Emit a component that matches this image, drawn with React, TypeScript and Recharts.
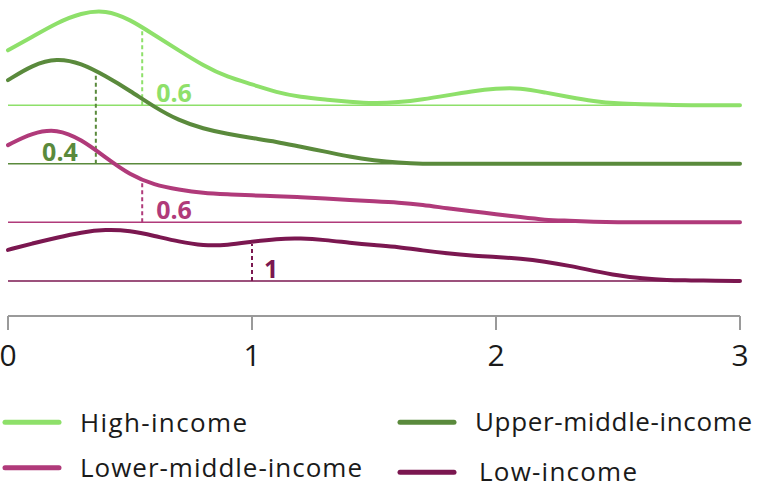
import React from 'react';
import { LineChart, Line, XAxis, YAxis, ReferenceLine, Legend } from 'recharts';

const xValues = [0, 0.1, 0.2, 0.3, 0.4, 0.5, 0.6, 0.7, 0.8, 0.9, 1.0, 1.1, 1.2, 1.3, 1.4, 1.5, 1.6, 1.7, 1.8, 1.9, 2.0, 2.1, 2.2, 2.3, 2.4, 2.5, 2.6, 2.7, 2.8, 2.9, 3.0];
const highIncome = [0.94, 1.17, 1.41, 1.58, 1.63, 1.47, 1.20, 0.94, 0.68, 0.48, 0.36, 0.22, 0.14, 0.10, 0.06, 0.03, 0.05, 0.10, 0.17, 0.24, 0.29, 0.30, 0.22, 0.14, 0.07, 0.03, 0.02, 0.01, 0, 0, 0];
const upperMiddleIncome = [1.43, 1.69, 1.81, 1.72, 1.50, 1.25, 0.97, 0.74, 0.60, 0.51, 0.44, 0.38, 0.29, 0.21, 0.12, 0.06, 0.02, 0, 0, 0, 0, 0, 0, 0, 0, 0, 0, 0, 0, 0, 0];
const lowerMiddleIncome = [1.32, 1.53, 1.60, 1.42, 1.11, 0.81, 0.64, 0.56, 0.50, 0.48, 0.46, 0.45, 0.43, 0.41, 0.38, 0.36, 0.34, 0.30, 0.24, 0.19, 0.14, 0.09, 0.04, 0.03, 0.01, 0, 0, 0, 0, 0, 0];
const lowIncome = [0.53, 0.64, 0.74, 0.83, 0.88, 0.86, 0.77, 0.67, 0.60, 0.61, 0.67, 0.72, 0.73, 0.70, 0.65, 0.61, 0.58, 0.52, 0.47, 0.43, 0.41, 0.38, 0.33, 0.26, 0.17, 0.09, 0.04, 0.01, 0.01, 0, 0];

const seriesNames = ['High-income', 'Upper-middle-income', 'Lower-middle-income', 'Low-income'];
const seriesKeys = ['high', 'upper', 'lower', 'low'];
const seriesValues = [highIncome, upperMiddleIncome, lowerMiddleIncome, lowIncome];
const offsets = [3.6, 2.6, 1.6, 0.6];
const medians = [0.55, 0.36, 0.55, 1.0];
const medianHeights = [1.34, 1.55, 0.7, 0.63];
const medianLabels = ['0.6', '0.4', '0.6', '1'];
const xTicks = [0, 1, 2, 3];

const colors = ['#8EE06A', '#5A8A3C', '#B03A7A', '#7B1750'];
const labelDx = [14, -18, 14, 12];
const labelAnchor = ['start', 'end', 'start', 'start'];
const FONT = '"Open Sans", "Noto Sans", sans-serif';

const data = xValues.map((x, i) => {
  const row: Record<string, number> = { x };
  seriesKeys.forEach((k, s) => {
    row[k] = offsets[s] + seriesValues[s][i];
  });
  return row;
});

const makeLabel = (i: number) => (props: any) => {
  const vb = props.viewBox || {};
  const x = vb.x ?? 0;
  const yb = (vb.y ?? 0) + (vb.height ?? 0);
  return (
    <text
      x={x + labelDx[i]}
      y={yb - 3}
      textAnchor={labelAnchor[i]}
      fill={colors[i]}
      fontSize={25}
      fontWeight={700}
      fontFamily={FONT}
    >
      {medianLabels[i]}
    </text>
  );
};

const legendLayout = [
  { lx: 5, ly: 27.3, tx: 80, ty: 36.7, w: 167 },
  { lx: 400, ly: 27.3, tx: 475, ty: 36, w: 277 },
  { lx: 5, ly: 72.7, tx: 80, ty: 81.7, w: 282 },
  { lx: 400, ly: 77.3, tx: 479, ty: 86, w: 158 },
];

const LegendBlock = () => (
  <svg width={757} height={98} style={{ display: 'block' }}>
    {seriesNames.map((name, i) => (
      <g key={name}>
        <line
          x1={legendLayout[i].lx}
          x2={legendLayout[i].lx + 54}
          y1={legendLayout[i].ly}
          y2={legendLayout[i].ly}
          stroke={colors[i]}
          strokeWidth={5}
          strokeLinecap="round"
        />
        <text
          x={legendLayout[i].tx}
          y={legendLayout[i].ty}
          fontSize={26}
          textLength={legendLayout[i].w}
          lengthAdjust="spacing"
          fill="#1a1a1a"
          fontFamily={FONT}
        >
          {name}
        </text>
      </g>
    ))}
  </svg>
);

export default function App() {
  return (
    <div style={{ position: 'absolute', left: 0, top: 0, width: 757, height: 493, background: '#fff' }}>
      <LineChart
        width={757}
        height={493}
        data={data}
        margin={{ top: 0, right: 17, bottom: 117, left: 8 }}
        style={{ fontFamily: FONT }}
      >
        <XAxis
          dataKey="x"
          type="number"
          domain={[0, 3]}
          ticks={xTicks}
          height={60}
          tickSize={14}
          tickMargin={15}
          axisLine={{ stroke: '#9a9a9a', strokeWidth: 2 }}
          tickLine={{ stroke: '#9a9a9a', strokeWidth: 2 }}
          tick={{ fontSize: 30, fill: '#1a1a1a', fontFamily: FONT }}
        />
        <YAxis
          type="number"
          domain={[0, 5.4]}
          width={0}
          tick={false}
          tickLine={false}
          axisLine={{ stroke: '#9a9a9a', strokeWidth: 2 }}
        />
        {seriesKeys.map((k, i) => (
          <ReferenceLine key={'base-' + k} y={offsets[i]} stroke={colors[i]} strokeWidth={1.5} />
        ))}
        {seriesKeys.map((k, i) => (
          <ReferenceLine
            key={'med-' + k}
            segment={[
              { x: medians[i], y: offsets[i] },
              { x: medians[i], y: offsets[i] + medianHeights[i] },
            ]}
            stroke={colors[i]}
            strokeWidth={2}
            strokeDasharray="4 3"
            label={makeLabel(i)}
          />
        ))}
        {seriesKeys.map((k, i) => (
          <Line
            key={k}
            dataKey={k}
            name={seriesNames[i]}
            type="basis"
            stroke={colors[i]}
            strokeWidth={4}
            strokeLinecap="round"
            dot={false}
            activeDot={false}
            isAnimationActive={false}
          />
        ))}
        <Legend
          layout="horizontal"
          verticalAlign="middle"
          align="center"
          wrapperStyle={{ top: 395, left: 0, width: 757, height: 98 }}
          content={() => <LegendBlock />}
        />
      </LineChart>
    </div>
  );
}
